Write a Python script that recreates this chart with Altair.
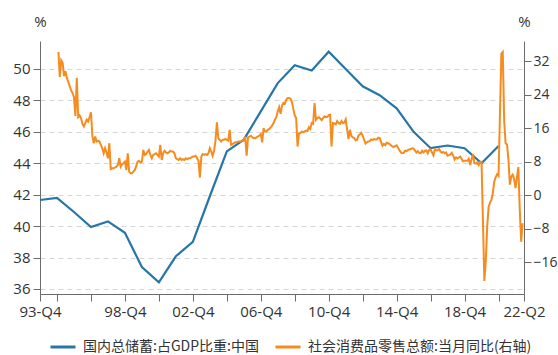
import altair as alt
import pandas as pd

BLUE_NAME = "国内总储蓄:占GDP比重:中国"
ORANGE_NAME = "社会消费品零售总额:当月同比(右轴)"
BLUE = "#2676a6"
ORANGE = "#f68b1f"
NUM_FONT = "Open Sans"
CJK_FONT = "Noto Sans CJK SC"
TXT = "#333333"
AXC = "#6b6b6b"

# Annual (Q4) gross domestic savings, % of GDP, China
savings_years = list(range(1993, 2021))
savings_values = [41.66, 41.8, 40.9, 39.94, 40.3, 39.57, 37.4, 36.42, 38.08, 39.0,
                  41.9, 44.75, 45.5, 47.3, 49.1, 50.24, 49.9, 51.1, 50.0, 48.9,
                  48.33, 47.5, 46.0, 44.96, 45.13, 44.96, 44.0, 45.1]

# Monthly retail sales YoY (%), Jan..Dec per year, None = not published
retail_1995 = [34.2, 28.2, 32.2, 31.6, 28.4, 29.6, 28.0, 27.0, 26.0, 25.0, 24.4, 23.4]
retail_1996 = [18.9, 28.0, 18.6, 19.0, 18.4, 17.0, 16.4, 17.2, 18.0, 17.6, 18.6, 19.8]
retail_1997 = [14.2, 12.4, 14.0, 12.8, 13.0, 12.8, 12.0, 11.2, 10.0, 11.2, 10.2, 8.8]
retail_1998 = [12.4, 6.2, 6.4, 6.4, 6.6, 6.8, 7.2, 8.8, 6.8, 7.4, 7.6, 8.0]
retail_1999 = [6.0, 10.0, 5.6, 5.2, 5.2, 5.6, 6.0, 7.0, 8.0, 8.2, 7.8, 8.0]
retail_2000 = [10.8, 9.6, 9.8, 10.4, 10.8, 9.6, 8.8, 9.6, 9.8, 10.0, 9.6, 9.2]
retail_2001 = [12.0, 8.4, 10.0, 10.6, 10.2, 10.0, 10.2, 10.6, 10.4, 10.4, 10.0, 8.8]
retail_2002 = [8.6, 8.4, 8.8, 8.4, 8.6, 8.4, 8.8, 8.6, 8.8, 8.8, 9.0, 9.2]
retail_2003 = [9.2, 9.4, 8.8, 8.2, 4.2, 9.2, 9.8, 9.6, 9.8, 9.6, 10.0, 11.2]
retail_2004 = [10.4, 9.4, 10.6, 13.0, 17.4, 13.6, 13.2, 12.8, 13.2, 13.2, 13.4, 13.2]
retail_2005 = [13.0, 15.6, 12.0, 12.2, 12.4, 12.6, 12.6, 12.8, 12.8, 12.8, 13.0, 13.0]
retail_2006 = [14.0, 9.4, 13.8, 14.0, 14.2, 13.8, 13.6, 13.6, 13.8, 14.0, 14.2, 14.6]
retail_2007 = [12.6, 16.0, 15.2, 15.2, 15.6, 15.8, 16.2, 16.6, 17.2, 18.0, 18.6, 20.0]
retail_2008 = [21.0, 19.4, 21.4, 22.0, 21.8, 22.8, 23.2, 23.2, 23.0, 22.2, 20.6, 19.0]
retail_2009 = [18.4, 11.6, 14.8, 14.8, 15.2, 15.0, 15.2, 15.4, 15.3, 16.2, 15.8, 17.2]
retail_2010 = [17.0, 22.0, 18.0, 18.4, 18.6, 18.3, 17.9, 18.4, 18.8, 18.6, 18.7, 19.1]
retail_2011 = [19.2, 11.6, 17.2, 17.1, 16.9, 17.7, 17.2, 17.0, 17.7, 17.2, 17.3, 18.1]
retail_2012 = [None, 13.4, 15.6, 14.1, 13.8, 13.7, 13.1, 13.2, 14.2, 14.5, 14.9, 14.2]
retail_2013 = [None, 12.3, 12.6, 12.8, 12.9, 13.3, 13.2, 13.4, 13.3, 13.3, 13.7, 13.6]
retail_2014 = [None, 11.8, 12.2, 11.9, 12.5, 12.4, 12.2, 11.9, 11.6, 11.5, 11.7, 11.9]
retail_2015 = [None, 10.7, 10.2, 10.0, 10.1, 10.6, 10.5, 10.8, 10.9, 11.0, 11.2, 11.1]
retail_2016 = [None, 10.2, 10.5, 10.1, 10.0, 10.6, 10.2, 10.6, 10.7, 10.0, 10.8, 10.9]
retail_2017 = [None, 9.5, 10.9, 10.7, 10.7, 11.0, 10.4, 10.1, 10.3, 10.0, 10.2, 9.4]
retail_2018 = [None, 9.7, 10.1, 9.4, 8.5, 9.0, 8.8, 9.0, 9.2, 8.6, 8.1, 8.2]
retail_2019 = [None, 8.2, 8.7, 7.2, 8.6, 9.8, 7.6, 7.5, 7.8, 7.2, 8.0, 8.0]
retail_2020 = [None, -20.5, -15.8, -7.5, -2.8, -1.8, -1.1, 0.5, 3.3, 4.3, 5.0, 4.6]
retail_2021 = [None, 33.8, 34.2, 17.7, 12.4, 12.1, 8.5, 2.5, 4.4, 4.9, 3.9, 1.7]
retail_2022 = [None, 6.7, -3.5, -11.1, -6.7]

retail_years = list(range(1995, 2023))
retail_lists = [retail_1995, retail_1996, retail_1997, retail_1998, retail_1999,
                retail_2000, retail_2001, retail_2002, retail_2003, retail_2004,
                retail_2005, retail_2006, retail_2007, retail_2008, retail_2009,
                retail_2010, retail_2011, retail_2012, retail_2013, retail_2014,
                retail_2015, retail_2016, retail_2017, retail_2018, retail_2019,
                retail_2020, retail_2021, retail_2022]

# x-axis ticks (position in fractional years at period end) and labels
tick_pos = [1994, 1995, 1997, 1999, 2001, 2003, 2005, 2007, 2009, 2011,
            2013, 2015, 2017, 2019, 2021, 2022.5]
tick_text = ["93-Q4", "", "", "98-Q4", "", "02-Q4", "", "06-Q4", "", "10-Q4",
             "", "14-Q4", "", "18-Q4", "", "22-Q2"]
left_ticks = [36, 38, 40, 42, 44, 46, 48, 50]
right_ticks = [-16, -8, 0, 8, 16, 24, 32]

blue_df = pd.DataFrame({
    "t": [y + 1.0 for y in savings_years],
    "v": savings_values,
    "series": BLUE_NAME,
})
orange_rows = []
for yr, vals in zip(retail_years, retail_lists):
    for m, v in enumerate(vals, start=1):
        if v is not None:
            orange_rows.append({"t": yr + m / 12.0, "v": v, "series": ORANGE_NAME})
orange_df = pd.DataFrame(orange_rows)

expr = ""
for p, s in zip(tick_pos, tick_text):
    expr += f"abs(datum.value - {p}) < 0.01 ? '{s}' : "
expr += "''"

color = alt.Color(
    "series:N",
    scale=alt.Scale(domain=[BLUE_NAME, ORANGE_NAME], range=[BLUE, ORANGE]),
    legend=alt.Legend(
        orient="none", legendX=9, legendY=292, direction="horizontal", title=None,
        symbolType="stroke", symbolSize=625, symbolStrokeWidth=3,
        labelFont=CJK_FONT, labelFontSize=14, labelColor=TXT, labelLimit=400,
        columnPadding=10, padding=0, labelOffset=6,
    ),
)

xenc = alt.X(
    "t:Q",
    scale=alt.Scale(domain=[1994, 2022.5], nice=False, zero=False),
    axis=alt.Axis(
        values=tick_pos, labelExpr=expr, title=None, grid=False,
        tickSize=7, labelPadding=3, tickColor=AXC, domainColor=AXC,
        labelFont=NUM_FONT, labelFontSize=15, labelColor=TXT,
        labelOverlap=False, labelFlush=False,
    ),
)

common_axis = dict(
    titleAngle=0, titleX=0, titleY=-12, titleAlign="center", titleBaseline="bottom",
    titleFont=NUM_FONT, titleFontSize=15, titleFontWeight="normal", titleColor=TXT,
    tickSize=7, tickColor=AXC, domainColor=AXC,
    labelFont=NUM_FONT, labelColor=TXT,
)

blue = alt.Chart(blue_df).mark_line(strokeWidth=2.2).encode(
    x=xenc,
    y=alt.Y(
        "v:Q",
        scale=alt.Scale(domain=[35.68, 51.78], nice=False, zero=False),
        axis=alt.Axis(
            orient="left", values=left_ticks, title="%", grid=True,
            gridDash=[5, 4], gridColor="#d6d6d6", labelFontSize=15, labelPadding=3,
            **common_axis,
        ),
    ),
    color=color,
)

orange = alt.Chart(orange_df).mark_line(strokeWidth=2).encode(
    x=xenc,
    y=alt.Y(
        "v:Q",
        scale=alt.Scale(domain=[-23.6, 36.8], nice=False, zero=False),
        axis=alt.Axis(orient="right", values=right_ticks, title="%", grid=False,
                      labelFontSize=14, labelPadding=2, **common_axis),
    ),
    color=color,
)

chart = (
    alt.layer(blue, orange)
    .resolve_scale(y="independent")
    .properties(
        width=484, height=253,
        autosize=alt.AutoSizeParams(type="none"),
        padding={"left": 40, "top": 41, "right": 34, "bottom": 61},
        background="white",
    )
    .configure_view(strokeWidth=0)
)

chart.save("out.html", embed_options={"renderer": "svg", "actions": False})
